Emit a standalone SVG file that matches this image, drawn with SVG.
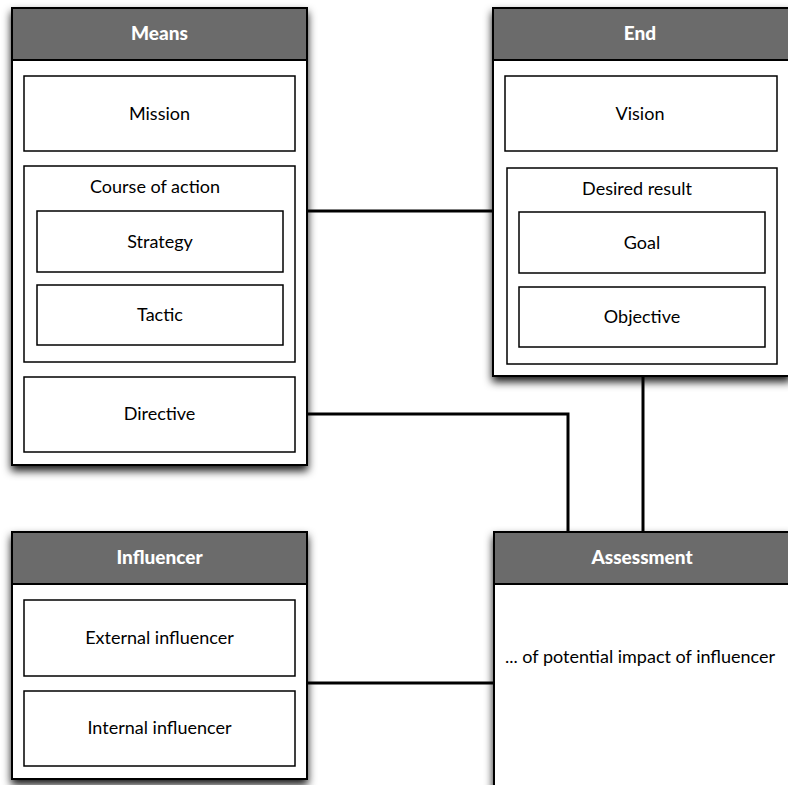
<svg xmlns="http://www.w3.org/2000/svg" width="788" height="785" viewBox="0 0 788 785">
  <style>
    .outer { fill: #ffffff; stroke: #000; stroke-width: 2; }
    .head { fill: #6b6b6b; stroke: #000; stroke-width: 2; }
    .box { fill: #ffffff; stroke: #000; stroke-width: 1.5; }
    .title { font-family: "Lato", "Open Sans", sans-serif; font-weight: 900; font-size: 19px; fill: #ffffff; text-anchor: middle; }
    .label { font-family: "Lato", "Open Sans", sans-serif; font-size: 18px; fill: #000; text-anchor: middle; }
    .wire { fill: none; stroke: #000; stroke-width: 3; }
  </style>
  <defs>
    <filter id="shadow" x="-10%" y="-10%" width="120%" height="125%">
      <feDropShadow dx="0" dy="5" stdDeviation="4" flood-color="#000" flood-opacity="0.9"/>
    </filter>
  </defs>
  <rect width="788" height="785" fill="#ffffff"/>

  <g id="connectors">
    <line class="wire" x1="307" y1="211" x2="493" y2="211"/>
    <polyline class="wire" points="307,414 568,414 568,532"/>
    <line class="wire" x1="643" y1="376" x2="643" y2="532"/>
    <line class="wire" x1="307" y1="683" x2="494" y2="683"/>
  </g>

  <g id="means">
    <rect class="outer" x="12" y="8" width="295" height="457" filter="url(#shadow)"/>
    <rect class="head" x="12" y="8" width="295" height="52"/>
    <text class="title" x="159.5" y="40">Means</text>
    <g id="mission">
      <rect class="box" x="24" y="76" width="271" height="75"/>
      <text class="label" x="159.5" y="120">Mission</text>
    </g>
    <g id="course-of-action">
      <rect class="box" x="24" y="166" width="271" height="196"/>
      <text class="label" x="155" y="193">Course of action</text>
      <g id="strategy">
        <rect class="box" x="37" y="211" width="246" height="61"/>
        <text class="label" x="160" y="248">Strategy</text>
      </g>
      <g id="tactic">
        <rect class="box" x="37" y="285" width="246" height="60"/>
        <text class="label" x="160" y="321">Tactic</text>
      </g>
    </g>
    <g id="directive">
      <rect class="box" x="24" y="377" width="271" height="75"/>
      <text class="label" x="159.5" y="420">Directive</text>
    </g>
  </g>

  <g id="end">
    <rect class="outer" x="493" y="8" width="297" height="368" filter="url(#shadow)"/>
    <rect class="head" x="493" y="8" width="297" height="52"/>
    <text class="title" x="640" y="40">End</text>
    <g id="vision">
      <rect class="box" x="505" y="76" width="272" height="75"/>
      <text class="label" x="640" y="120">Vision</text>
    </g>
    <g id="desired-result">
      <rect class="box" x="507" y="168" width="270" height="196"/>
      <text class="label" x="637" y="195">Desired result</text>
      <g id="goal">
        <rect class="box" x="519" y="212" width="246" height="61"/>
        <text class="label" x="642" y="249">Goal</text>
      </g>
      <g id="objective">
        <rect class="box" x="519" y="287" width="246" height="60"/>
        <text class="label" x="642" y="323">Objective</text>
      </g>
    </g>
  </g>

  <g id="influencer">
    <rect class="outer" x="12" y="532" width="295" height="247" filter="url(#shadow)"/>
    <rect class="head" x="12" y="532" width="295" height="52"/>
    <text class="title" x="159.5" y="564">Influencer</text>
    <g id="external-influencer">
      <rect class="box" x="24" y="600" width="271" height="76"/>
      <text class="label" x="159.5" y="644">External influencer</text>
    </g>
    <g id="internal-influencer">
      <rect class="box" x="24" y="691" width="271" height="75"/>
      <text class="label" x="159.5" y="734">Internal influencer</text>
    </g>
  </g>

  <g id="assessment">
    <rect class="outer" x="494" y="532" width="296" height="262" filter="url(#shadow)"/>
    <rect class="head" x="494" y="532" width="296" height="52"/>
    <text class="title" x="642" y="564">Assessment</text>
    <text class="label" x="640" y="663">... of potential impact of influencer</text>
  </g>
</svg>
